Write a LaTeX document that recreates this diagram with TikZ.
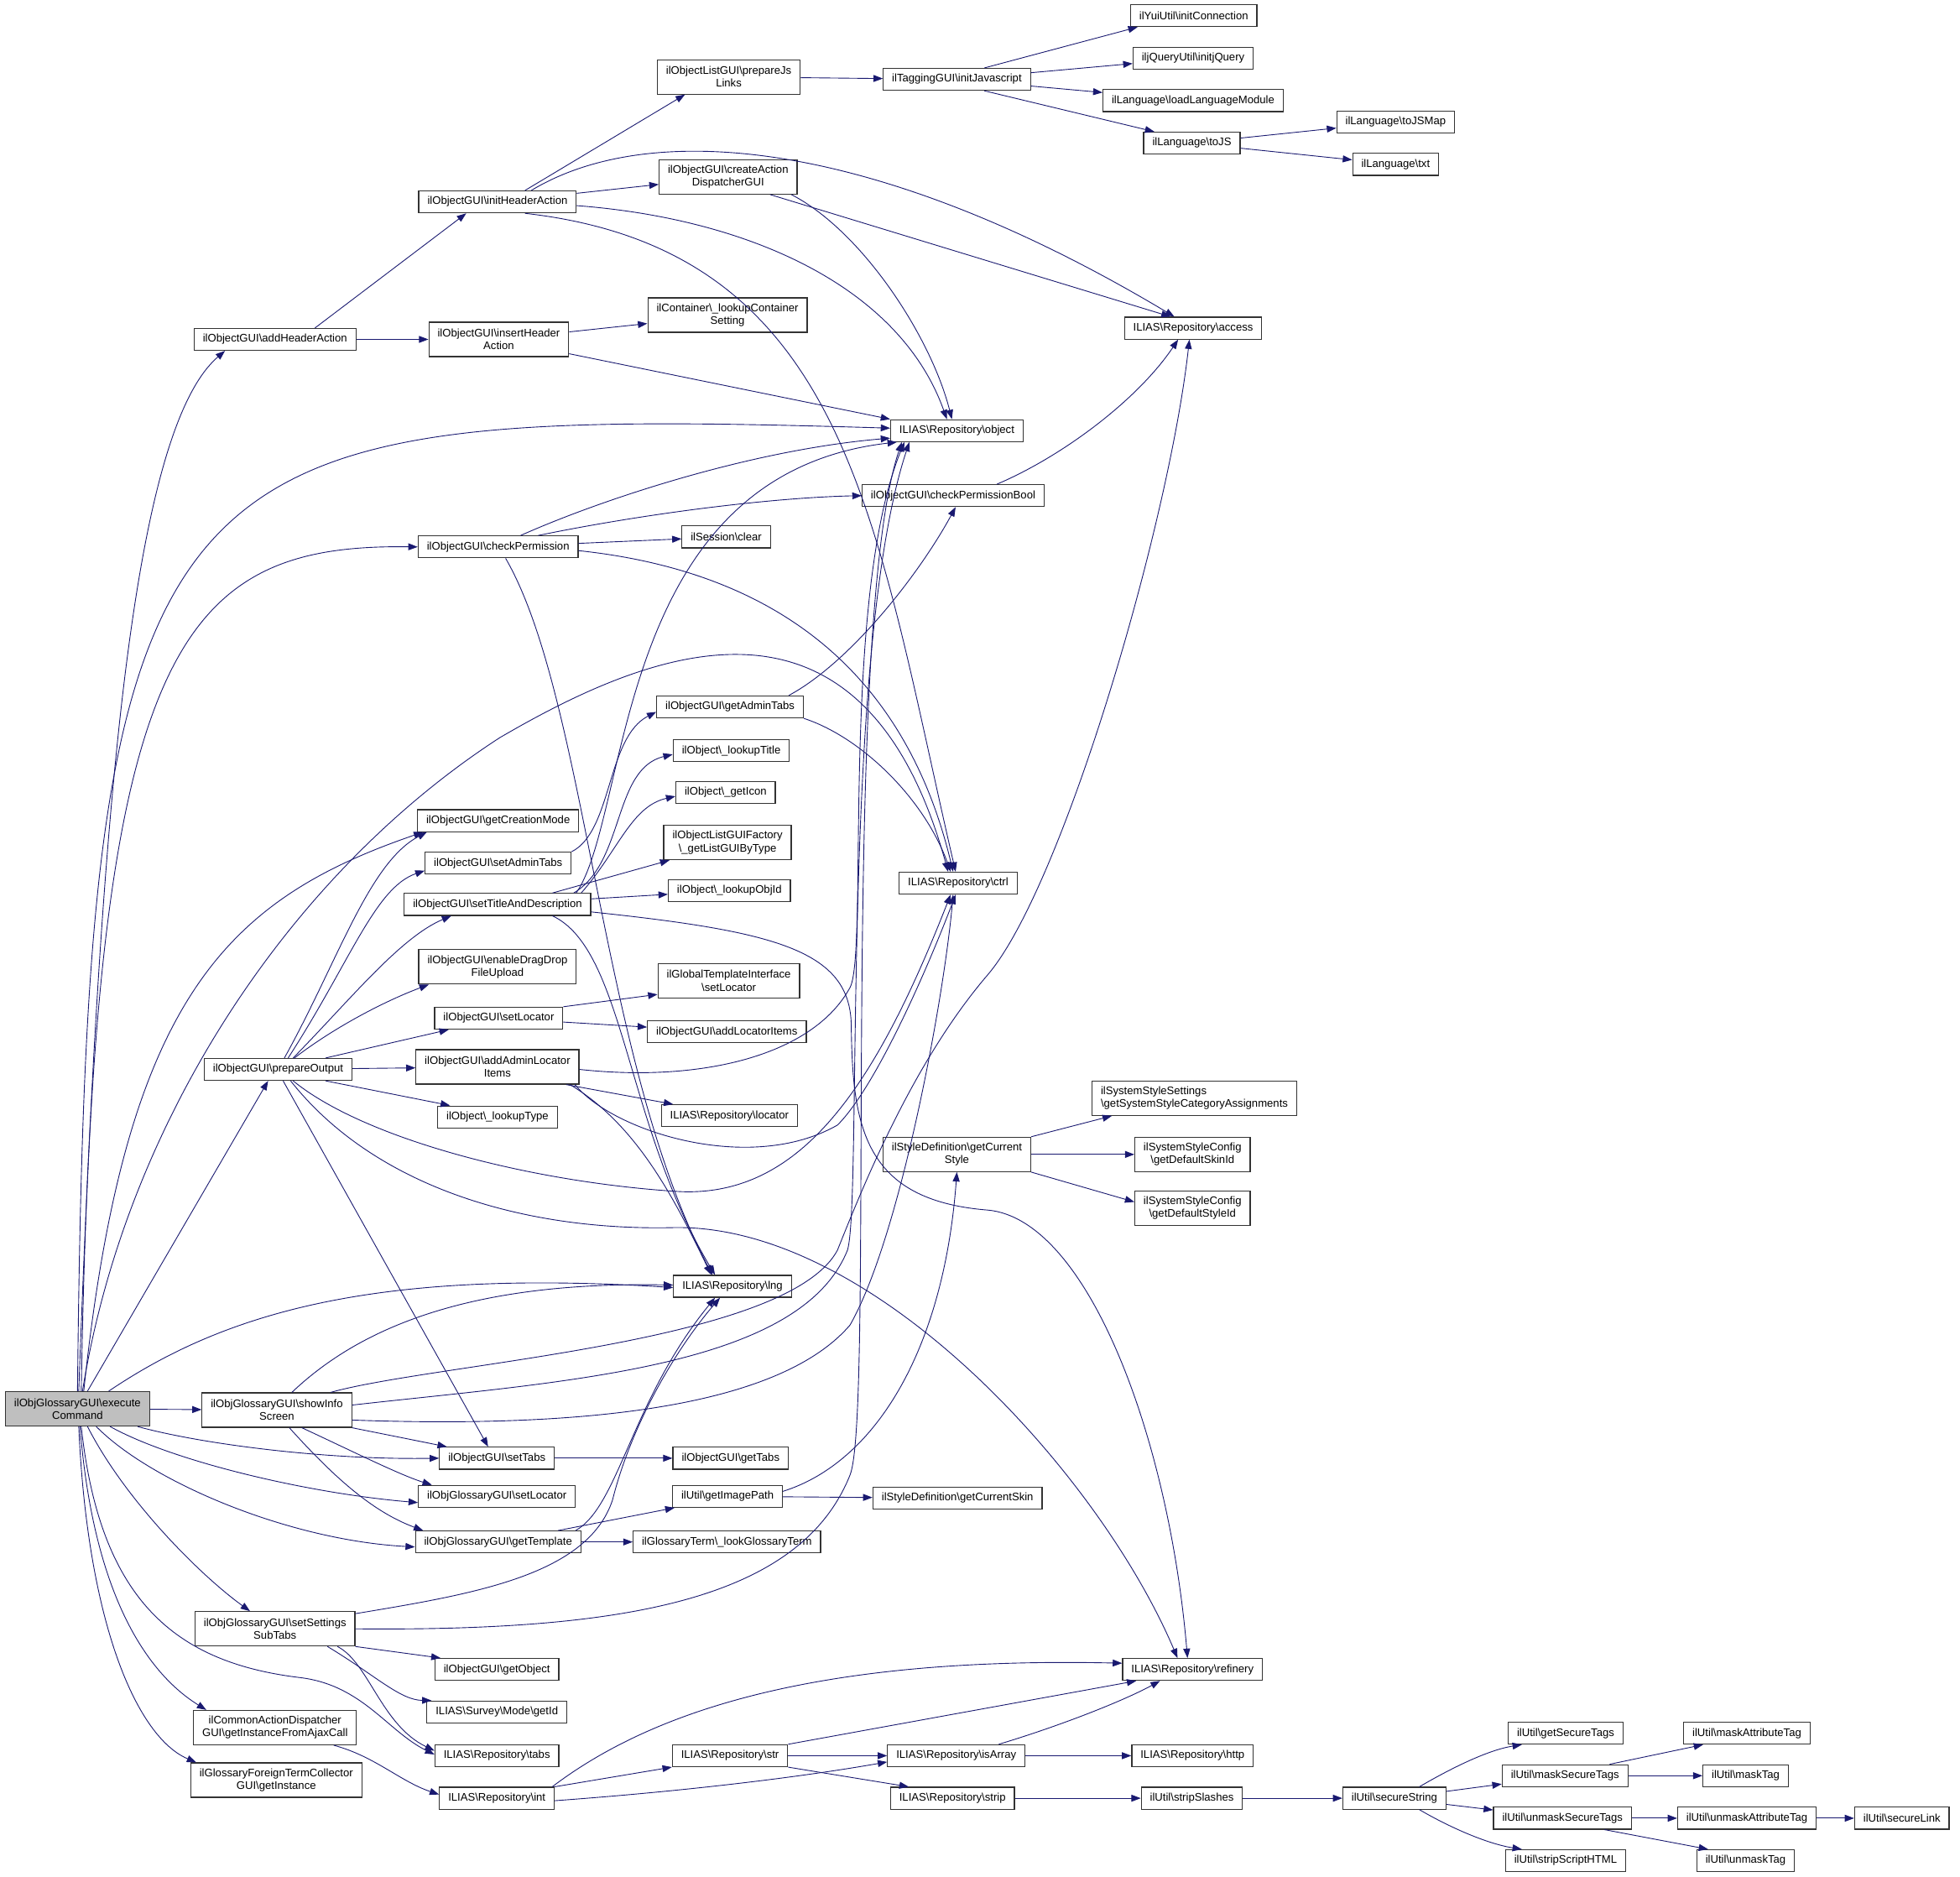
\documentclass[tikz,border=0pt]{standalone}
\usepackage{fontspec}
\setmainfont{Liberation Sans}
\usetikzlibrary{arrows.meta}
\definecolor{edgeblue}{HTML}{191970}
\definecolor{rootgray}{HTML}{BFBFBF}
\newcommand{\bsh}{\textbackslash}
\begin{document}
\begin{tikzpicture}[x=1pt, y=-1pt,
  fn/.style={draw=black!80, fill=white, line width=0.8pt, font=\fontsize{8.8}{10.2}\selectfont,
    inner xsep=7pt, inner ysep=2pt, minimum height=17.5pt, align=center},
  fn2/.style={fn, minimum height=27.5pt},
  call/.style={draw=edgeblue, line width=0.6pt, -{Triangle[length=7.5pt,width=5.5pt]}}]
  \path[use as bounding box, fill=white] (0,0) rectangle (1568,1501.5);

  % functions, one column per call depth
  \node[fn2, fill=rootgray] (exec) at (62,1127) {ilObjGlossaryGUI\bsh execute\\Command};

  \node[fn] (addHdr) at (220,271.5) {ilObjectGUI\bsh addHeaderAction};
  \node[fn] (prepOut) at (222.5,855.5) {ilObjectGUI\bsh prepareOutput};
  \node[fn2] (showInfo) at (221.5,1128) {ilObjGlossaryGUI\bsh showInfo\\Screen};
  \node[fn2] (setSubTabs) at (220,1303) {ilObjGlossaryGUI\bsh setSettings\\SubTabs};
  \node[fn2] (cmnAction) at (220,1382) {ilCommonActionDispatcher\\GUI\bsh getInstanceFromAjaxCall};
  \node[fn2] (foreignTerm) at (221,1424) {ilGlossaryForeignTermCollector\\GUI\bsh getInstance};

  \node[fn] (initHdr) at (398,161.5) {ilObjectGUI\bsh initHeaderAction};
  \node[fn2] (insHdr) at (399,271.5) {ilObjectGUI\bsh insertHeader\\Action};
  \node[fn] (chkPerm) at (398.5,437.5) {ilObjectGUI\bsh checkPermission};
  \node[fn] (getCreation) at (398.5,656.5) {ilObjectGUI\bsh getCreationMode};
  \node[fn] (setAdmTabs) at (398.5,690.5) {ilObjectGUI\bsh setAdminTabs};
  \node[fn] (setTitle) at (398,723.5) {ilObjectGUI\bsh setTitleAndDescription};
  \node[fn2] (dragDrop) at (398,773.5) {ilObjectGUI\bsh enableDragDrop\\FileUpload};
  \node[fn] (setLoc) at (399,814.5) {ilObjectGUI\bsh setLocator};
  \node[fn2] (admLoc) at (398,853.5) {ilObjectGUI\bsh addAdminLocator\\Items};
  \node[fn] (lookType) at (398,893.5) {ilObject\bsh\_lookupType};
  \node[fn] (setTabs) at (397.5,1166.5) {ilObjectGUI\bsh setTabs};
  \node[fn] (gloSetLoc) at (397.5,1197) {ilObjGlossaryGUI\bsh setLocator};
  \node[fn] (getTpl) at (398.5,1233.5) {ilObjGlossaryGUI\bsh getTemplate};
  \node[fn] (getObj) at (397.5,1335.5) {ilObjectGUI\bsh getObject};
  \node[fn] (getId) at (397.5,1369.5) {ILIAS\bsh Survey\bsh Mode\bsh getId};
  \node[fn] (repTabs) at (397.5,1404.5) {ILIAS\bsh Repository\bsh tabs};
  \node[fn] (repInt) at (397.5,1438.5) {ILIAS\bsh Repository\bsh int};

  \node[fn2] (prepJs) at (583,61.5) {ilObjectListGUI\bsh prepareJs\\Links};
  \node[fn2] (createAD) at (582.5,141.5) {ilObjectGUI\bsh createAction\\DispatcherGUI};
  \node[fn2] (lookCont) at (582,252) {ilContainer\bsh\_lookupContainer\\Setting};
  \node[fn] (sessClear) at (581,429.5) {ilSession\bsh clear};
  \node[fn] (getAdmTabs) at (584,565.5) {ilObjectGUI\bsh getAdminTabs};
  \node[fn] (lookTitle) at (585,600.5) {ilObject\bsh\_lookupTitle};
  \node[fn] (getIcon) at (580.5,634) {ilObject\bsh\_getIcon};
  \node[fn2] (listGUI) at (582,674) {ilObjectListGUIFactory\\\bsh\_getListGUIByType};
  \node[fn] (lookObjId) at (583.5,712.5) {ilObject\bsh\_lookupObjId};
  \node[fn2] (tplSetLoc) at (583,784.5) {ilGlobalTemplateInterface\\\bsh setLocator};
  \node[fn] (addLocItems) at (581.5,825.5) {ilObjectGUI\bsh addLocatorItems};
  \node[fn] (repLocator) at (583.5,892.5) {ILIAS\bsh Repository\bsh locator};
  \node[fn] (repLng) at (586,1029) {ILIAS\bsh Repository\bsh lng};
  \node[fn] (getTabs) at (584.5,1166.5) {ilObjectGUI\bsh getTabs};
  \node[fn] (imgPath) at (582,1197) {ilUtil\bsh getImagePath};
  \node[fn] (lookTerm) at (581.5,1233.5) {ilGlossaryTerm\bsh\_lookGlossaryTerm};
  \node[fn] (repStr) at (584,1404.5) {ILIAS\bsh Repository\bsh str};

  \node[fn] (initJs) at (765.5,63.5) {ilTaggingGUI\bsh initJavascript};
  \node[fn] (repObject) at (765.5,344.5) {ILIAS\bsh Repository\bsh object};
  \node[fn] (chkPermBool) at (762.5,396.5) {ilObjectGUI\bsh checkPermissionBool};
  \node[fn] (repCtrl) at (766.5,706.5) {ILIAS\bsh Repository\bsh ctrl};
  \node[fn2] (curStyle) at (765.5,923.5) {ilStyleDefinition\bsh getCurrent\\Style};
  \node[fn] (curSkin) at (766,1198.5) {ilStyleDefinition\bsh getCurrentSkin};
  \node[fn] (repIsArray) at (765,1404.5) {ILIAS\bsh Repository\bsh isArray};
  \node[fn] (repStrip) at (762,1438.5) {ILIAS\bsh Repository\bsh strip};

  \node[fn] (yuiInit) at (955,12.5) {ilYuiUtil\bsh initConnection};
  \node[fn] (jqInit) at (954.5,46.5) {iljQueryUtil\bsh initjQuery};
  \node[fn] (loadLang) at (954.5,80.5) {ilLanguage\bsh loadLanguageModule};
  \node[fn] (toJS) at (953.5,114.5) {ilLanguage\bsh toJS};
  \node[fn] (repAccess) at (954.5,262.5) {ILIAS\bsh Repository\bsh access};
  \node[fn2, align=left] (catAssign) at (955.5,878.5) {ilSystemStyleSettings\\\bsh getSystemStyleCategoryAssignments};
  \node[fn2] (skinId) at (954,923.5) {ilSystemStyleConfig\\\bsh getDefaultSkinId};
  \node[fn2] (styleId) at (954,966.5) {ilSystemStyleConfig\\\bsh getDefaultStyleId};
  \node[fn] (repRefinery) at (954,1335.5) {ILIAS\bsh Repository\bsh refinery};
  \node[fn] (repHttp) at (954,1404.5) {ILIAS\bsh Repository\bsh http};
  \node[fn] (stripSl) at (953.5,1438.5) {ilUtil\bsh stripSlashes};

  \node[fn] (toJSMap) at (1116.5,97.5) {ilLanguage\bsh toJSMap};
  \node[fn] (langTxt) at (1116.5,131.5) {ilLanguage\bsh txt};
  \node[fn] (secStr) at (1115.5,1438.5) {ilUtil\bsh secureString};

  \node[fn] (getSecTags) at (1252.5,1386.5) {ilUtil\bsh getSecureTags};
  \node[fn] (maskSecTags) at (1252,1420.5) {ilUtil\bsh maskSecureTags};
  \node[fn] (unmaskSecTags) at (1250,1454.5) {ilUtil\bsh unmaskSecureTags};
  \node[fn] (stripHTML) at (1252.5,1488.5) {ilUtil\bsh stripScriptHTML};

  \node[fn] (maskAttr) at (1397.5,1386.5) {ilUtil\bsh maskAttributeTag};
  \node[fn] (maskTag) at (1396.5,1420.5) {ilUtil\bsh maskTag};
  \node[fn] (unmaskAttr) at (1397.5,1454.5) {ilUtil\bsh unmaskAttributeTag};
  \node[fn] (unmaskTag) at (1396.5,1488.5) {ilUtil\bsh unmaskTag};

  \node[fn] (secLink) at (1521.5,1454.5) {ilUtil\bsh secureLink};

  % straight calls
  \path[every edge/.style={call}] (exec) edge (showInfo)
    ([xshift=8pt]exec.north) edge ([xshift=-8pt]prepOut.south)
    ([xshift=32pt]addHdr.north) edge ([xshift=-25pt]initHdr.south)
    (addHdr) edge (insHdr)
    ([xshift=22pt]initHdr.north) edge ([xshift=-35pt]prepJs.south)
    (initHdr) edge (createAD)
    (prepJs) edge (initJs)
    ([xshift=22pt]initJs.north) edge ([xshift=6pt]yuiInit.south west)
    (initJs) edge (jqInit)
    (initJs) edge (loadLang)
    ([xshift=22pt]initJs.south) edge ([xshift=-30pt]toJS.north)
    (toJS) edge (toJSMap)
    (toJS) edge (langTxt)
    ([xshift=-22pt]createAD.south east) edge ([xshift=-18pt]repAccess.north)
    (insHdr) edge (lookCont)
    (insHdr) edge (repObject.north west)
    (chkPerm) edge (sessClear)
    (setTitle) edge (lookObjId)
    ([xshift=44pt]setTitle.north) edge ([xshift=5pt]listGUI.south west)
    (setLoc.north east) edge ([yshift=-11pt]tplSetLoc.west)
    (setLoc) edge (addLocItems)
    ([xshift=38pt]prepOut.north) edge ([xshift=-40pt]setLoc.south)
    (prepOut) edge (admLoc)
    ([xshift=38pt]prepOut.south) edge ([xshift=-38pt]lookType.north)
    ([xshift=4pt]prepOut.south) edge ([xshift=-7pt]setTabs.north)
    ([xshift=55pt]admLoc.south) edge ([xshift=-45pt]repLocator.north)
    (setTabs) edge (getTabs)
    (showInfo.south east) edge ([xshift=-40pt]setTabs.north)
    ([xshift=48pt]getTpl.north) edge ([xshift=2pt]imgPath.south west)
    (getTpl) edge (lookTerm)
    (imgPath) edge (curSkin)
    (curStyle.north east) edge ([xshift=-66pt]catAssign.south)
    (curStyle) edge (skinId)
    (curStyle.south east) edge ([yshift=5pt]styleId.west)
    (setSubTabs.south east) edge ([xshift=-45pt]getObj.north)
    (repInt.north east) edge (repStr.south west)
    (repStr.north east) edge ([xshift=-45pt]repRefinery.south)
    (repStr) edge (repIsArray)
    (repStr.south east) edge ([xshift=-35pt]repStrip.north)
    (repIsArray) edge (repHttp)
    (repStrip) edge (stripSl)
    (stripSl) edge (secStr)
    (secStr) edge (maskSecTags)
    (secStr) edge (unmaskSecTags)
    ([xshift=-15pt]maskSecTags.north east) edge ([xshift=-35pt]maskAttr.south)
    (maskSecTags) edge (maskTag)
    (unmaskSecTags) edge (unmaskAttr)
    ([xshift=-22pt]unmaskSecTags.south east) edge ([xshift=-30pt]unmaskTag.north)
    (unmaskAttr) edge (secLink);

  % curved calls from executeCommand
  \draw[call] ([xshift=1pt]exec.north) .. controls (80,650) and (105,345) .. ([xshift=-40pt]addHdr.south);
  \draw[call] (exec.north) .. controls (70,350) and (120,325) .. ([yshift=2pt]repObject.west);
  \draw[call] ([xshift=3pt]exec.north) .. controls (75,520) and (140,435) .. (chkPerm.west);
  \draw[call] ([xshift=4pt]exec.north) .. controls (100,900) and (230,700) .. (400,590)
    .. controls (520,520) and (690,450) .. ([xshift=-8pt]repCtrl.north);
  \draw[call] ([xshift=5pt]exec.north) .. controls (100,800) and (180,720) .. ([xshift=-60pt]getCreation.south);
  \draw[call] ([xshift=25pt]exec.north) .. controls (180,1050) and (300,1015) .. ([yshift=-1pt]repLng.west);
  \draw[call] ([xshift=-10pt]exec.south east) .. controls (160,1155) and (260,1168) .. (setTabs.west);
  \draw[call] ([xshift=-32pt]exec.south east) .. controls (140,1170) and (250,1195) .. ([yshift=-5pt]gloSetLoc.west);
  \draw[call] ([xshift=15pt]exec.south) .. controls (120,1185) and (230,1232) .. ([yshift=-4pt]getTpl.west);
  \draw[call] ([xshift=8pt]exec.south) .. controls (100,1200) and (160,1260) .. ([xshift=-20pt]setSubTabs.north);
  \draw[call] ([xshift=3pt]exec.south) .. controls (80,1280) and (140,1330) .. (240,1342)
    .. controls (290,1348) and (310,1385) .. ([yshift=1pt]repTabs.west);
  \draw[call] ([xshift=2pt]exec.south) .. controls (75,1280) and (120,1340) .. ([xshift=-55pt]cmnAction.north);
  \draw[call] ([xshift=1pt]exec.south) .. controls (70,1300) and (110,1390) .. ([xshift=-64pt]foreignTerm.north);

  % header action
  \draw[call] ([xshift=27pt]initHdr.north) .. controls (520,95) and (700,110) .. ([xshift=-15pt]repAccess.north);
  \draw[call] ([yshift=-3pt]initHdr.east) .. controls (600,175) and (720,230) .. ([xshift=-8pt]repObject.north);
  \draw[call] ([xshift=22pt]initHdr.south) .. controls (680,200) and (700,420) .. ([xshift=-2pt]repCtrl.north);
  \draw[call] ([xshift=-5pt]createAD.south east) .. controls (690,185) and (745,270) .. ([xshift=-4pt]repObject.north);

  % permissions
  \draw[call] ([xshift=18pt]chkPerm.north) .. controls (480,400) and (600,360) .. ([yshift=-6pt]repObject.west);
  \draw[call] ([xshift=32pt]chkPerm.north) .. controls (520,410) and (620,398) .. (chkPermBool.west);
  \draw[call] ([yshift=-3pt]chkPerm.east) .. controls (600,455) and (720,520) .. ([xshift=-4pt]repCtrl.north);
  \draw[call] ([xshift=6pt]chkPerm.south) .. controls (470,560) and (480,850) .. ([xshift=-16pt]repLng.north);
  \draw[call] ([xshift=35pt]chkPermBool.north) .. controls (850,365) and (910,320) .. ([xshift=-12pt]repAccess.south);
  \draw[call] ([xshift=-12pt]getAdmTabs.north east) .. controls (680,530) and (735,460) .. ([xshift=2pt]chkPermBool.south);
  \draw[call] (getAdmTabs.south east) .. controls (690,590) and (740,640) .. ([xshift=-6pt]repCtrl.north);
  \draw[call] (setAdmTabs.north east) .. controls (490,665) and (485,590) .. ([yshift=-4pt]getAdmTabs.west);

  % title and description
  \draw[call] ([xshift=-12pt]setTitle.north east) .. controls (505,650) and (490,380) .. ([xshift=-48pt]repObject.south);
  \draw[call] ([xshift=-14pt]setTitle.north east) .. controls (500,690) and (490,615) .. ([yshift=-3pt]lookTitle.west);
  \draw[call] ([xshift=-8pt]setTitle.north east) .. controls (495,680) and (505,645) .. ([yshift=-3pt]getIcon.west);
  \draw[call] ([xshift=44pt]setTitle.south) .. controls (500,760) and (500,900) .. ([xshift=-14pt]repLng.north);
  \draw[call] ([yshift=-6pt]setTitle.east) .. controls (620,745) and (680,760) .. (681,820)
    .. controls (682,900) and (690,960) .. (790,968) .. controls (870,975) and (935,1150) .. ([xshift=-4pt]repRefinery.north);

  % admin locator
  \draw[call] ([yshift=-2pt]admLoc.east) .. controls (560,866) and (650,845) .. (680,790)
    .. controls (695,762) and (672,480) .. ([xshift=-42pt]repObject.south);
  \draw[call] ([xshift=58pt]admLoc.south) .. controls (510,900) and (540,960) .. ([xshift=-17pt]repLng.north);
  \draw[call] ([xshift=62pt]admLoc.south) .. controls (490,905) and (600,940) .. (670,900)
    .. controls (700,870) and (740,780) .. ([xshift=-2pt]repCtrl.south);

  % prepareOutput
  \draw[call] ([xshift=5pt]prepOut.north) .. controls (270,770) and (295,690) .. ([xshift=-57pt]getCreation.south);
  \draw[call] ([xshift=8pt]prepOut.north) .. controls (280,770) and (300,710) .. ([yshift=-6pt]setAdmTabs.west);
  \draw[call] ([xshift=12pt]prepOut.north) .. controls (280,800) and (320,750) .. ([xshift=-37pt]setTitle.south);
  \draw[call] ([xshift=13pt]prepOut.north) .. controls (270,820) and (310,800) .. ([xshift=-55pt]dragDrop.south);
  \draw[call] ([xshift=12pt]prepOut.south) .. controls (290,910) and (420,945) .. (540,953)
    .. controls (640,960) and (700,870) .. ([xshift=-6pt]repCtrl.south);
  \draw[call] ([xshift=10pt]prepOut.south) .. controls (300,950) and (420,985) .. (540,982)
    .. controls (700,980) and (880,1180) .. ([xshift=-12pt]repRefinery.north);

  % showInfoScreen
  \draw[call] ([xshift=12pt]showInfo.north) .. controls (290,1060) and (380,1025) .. ([yshift=1pt]repLng.west);
  \draw[call] ([xshift=43pt]showInfo.north) .. controls (350,1090) and (630,1075) .. (670,1000)
    .. controls (690,950) and (730,850) .. (790,780) .. controls (850,710) and (935,420) .. ([xshift=-3pt]repAccess.south);
  \draw[call] ([yshift=4pt]showInfo.east) .. controls (450,1105) and (640,1095) .. (678,1000)
    .. controls (690,960) and (672,520) .. ([xshift=-38pt]repObject.south);
  \draw[call] ([yshift=-8pt]showInfo.east) .. controls (450,1142) and (620,1130) .. (680,1060)
    .. controls (720,990) and (755,800) .. ([xshift=-4pt]repCtrl.south);
  \draw[call] ([xshift=20pt]showInfo.south) .. controls (280,1160) and (320,1180) .. ([xshift=-52pt]gloSetLoc.north);
  \draw[call] ([xshift=10pt]showInfo.south) .. controls (270,1185) and (300,1210) .. ([xshift=-60pt]getTpl.north);

  % template, settings tabs, ajax
  \draw[call] ([xshift=62pt]getTpl.north) .. controls (495,1205) and (505,1120) .. ([xshift=-14pt]repLng.south);
  \draw[call] ([yshift=4pt]imgPath.east) .. controls (700,1170) and (755,1080) .. (curStyle.south);
  \draw[call] ([yshift=-2pt]setSubTabs.north east) .. controls (380,1275) and (470,1260) .. (490,1200)
    .. controls (505,1140) and (540,1080) .. ([xshift=-10pt]repLng.south);
  \draw[call] (setSubTabs.east) .. controls (500,1305) and (640,1280) .. (680,1180)
    .. controls (700,1130) and (672,500) .. ([xshift=-44pt]repObject.south);
  \draw[call] ([xshift=42pt]setSubTabs.south) .. controls (300,1340) and (320,1360) .. ([xshift=4pt]getId.north west);
  \draw[call] ([xshift=50pt]setSubTabs.south) .. controls (295,1330) and (305,1380) .. ([yshift=4pt]repTabs.west);
  \draw[call] ([xshift=47pt]cmnAction.south) .. controls (300,1405) and (320,1425) .. ([yshift=3pt]repInt.west);

  % repository helpers and secure string
  \draw[call] ([xshift=-2pt]repInt.north east) .. controls (520,1370) and (650,1325) .. ([yshift=5pt]repRefinery.west);
  \draw[call] ([yshift=-2pt]repInt.east) .. controls (560,1432) and (650,1420) .. ([yshift=-5pt]repIsArray.west);
  \draw[call] ([xshift=34pt]repIsArray.north) .. controls (850,1380) and (900,1360) .. ([xshift=-26pt]repRefinery.south);
  \draw[call] ([xshift=20pt]secStr.north) .. controls (1160,1415) and (1190,1400) .. ([xshift=-35pt]getSecTags.south);
  \draw[call] ([xshift=20pt]secStr.south) .. controls (1160,1462) and (1190,1475) .. ([xshift=-35pt]stripHTML.north);
\end{tikzpicture}
\end{document}
